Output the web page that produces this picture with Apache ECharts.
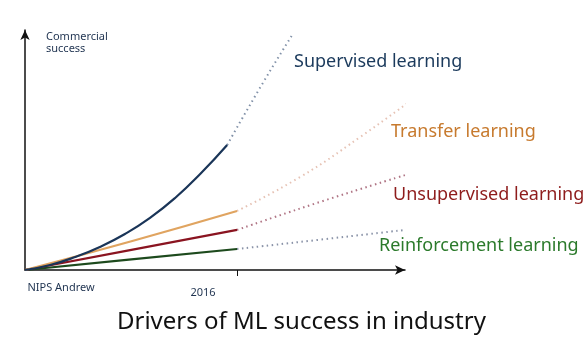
<!DOCTYPE html>
<html lang="en">
<head>
    <meta charset="UTF-8">
    <title>Drivers of ML success</title>
    <script src="https://cdn.jsdelivr.net/npm/echarts@6/dist/echarts.min.js"></script>
    <style>
        html, body { margin: 0; padding: 0; background: #fff; }
        #main { width: 585px; height: 337px; }
    </style>
</head>
<body>
<div id="main"></div>
<script type="text/javascript">
    // x: time (0 = NIPS Andrew, 55.8 = 2016), y: commercial success
    var tickValues = [0, 55.8];
    var tickLabels = ['NIPS Andrew', '2016'];

    var supervisedSolid = [[0, 0], [6.6, 2.1], [13.2, 5.4], [19.7, 9.6], [26.3, 15], [32.9, 21.7], [39.5, 30], [46.1, 40], [53.2, 52.1]];
    var supervisedDotted = [[53.2, 52.1], [61.8, 75.8], [70.3, 97.9]];
    var transferSolid = [[0, 0], [28, 12], [55.8, 24.6]];
    var transferDotted = [[55.8, 24.6], [72.4, 38.75], [88.2, 55.4], [105.3, 75]];
    var unsupSolid = [[0, 0], [28, 8.4], [55.8, 16.7]];
    var unsupDotted = [[55.8, 16.7], [78.4, 28.75], [101.8, 40.4]];
    var reinfSolid = [[0, 0], [28, 4.4], [55.8, 8.75]];
    var reinfDotted = [[55.8, 8.75], [78, 12.7], [100, 16.7]];

    var names = ['Supervised learning', 'Transfer learning', 'Unsupervised learning', 'Reinforcement learning'];

    var chart = echarts.init(document.getElementById('main'));

    function solid(data, color) {
        return {
            type: 'line', data: data, smooth: true, symbol: 'none', clip: false, silent: true,
            lineStyle: { color: color, width: 2.2 }
        };
    }
    function dotted(data, color) {
        return {
            type: 'line', data: data, smooth: true, symbol: 'none', clip: false, silent: true,
            lineStyle: { color: color, width: 2, type: [1.5, 3.5] }
        };
    }

    var option = {
        animation: false,
        title: {
            text: 'Drivers of ML success in industry',
            left: 112,
            top: 305,
            textStyle: { fontFamily: 'Noto Sans', fontWeight: 'normal', fontSize: 24, color: '#111' }
        },
        grid: { left: 25, top: 30, width: 380, height: 240 },
        xAxis: {
            type: 'value', min: 0, max: 100,
            axisLine: { lineStyle: { color: '#111', width: 1.5 }, symbol: ['none', 'arrow'], symbolSize: [7, 10] },
            axisTick: { show: true, customValues: [tickValues[1]], length: 6, inside: false, lineStyle: { color: '#111' } },
            axisLabel: {
                show: true,
                customValues: tickValues,
                margin: 12,
                color: '#1f3350',
                fontFamily: 'Noto Sans',
                fontSize: 11,
                formatter: function (v) {
                    return v === 0 ? '{a|' + tickLabels[0] + '}' : '{b|' + tickLabels[1] + '}';
                },
                rich: {
                    a: { padding: [0, 0, 0, 72], fontSize: 11, fontFamily: 'Noto Sans', color: '#1f3350' },
                    b: { padding: [5, 68, 0, 0], fontSize: 11, fontFamily: 'Noto Sans', color: '#1f3350' }
                }
            },
            splitLine: { show: false }
        },
        yAxis: {
            type: 'value', min: 0, max: 100,
            axisLine: { show: true, lineStyle: { color: '#111', width: 1.5 }, symbol: ['none', 'arrow'], symbolSize: [7, 10] },
            axisTick: { show: false },
            axisLabel: { show: false },
            splitLine: { show: false }
        },
        graphic: [
            { type: 'text', left: 46, top: 31, style: { text: 'Commercial\nsuccess', font: '11px "Noto Sans"', fill: '#1f3350', lineHeight: 12 } },
            { type: 'text', x: 294, y: 62, style: { text: names[0], font: '18px "Noto Sans"', fill: '#1b3a5c', verticalAlign: 'middle' } },
            { type: 'text', x: 391, y: 132, style: { text: names[1], font: '18px "Noto Sans"', fill: '#c77a2e', verticalAlign: 'middle' } },
            { type: 'text', x: 393, y: 195, style: { text: names[2], font: '18px "Noto Sans"', fill: '#8e1c1c', verticalAlign: 'middle' } },
            { type: 'text', x: 379, y: 246, style: { text: names[3], font: '18px "Noto Sans"', fill: '#2b7a2b', verticalAlign: 'middle' } }
        ],
        series: [
            dotted(supervisedDotted, '#8191a8'),
            dotted(transferDotted, '#e6c2b4'),
            dotted(unsupDotted, '#b07585'),
            dotted(reinfDotted, '#8a93a8'),
            solid(reinfSolid, '#1d4a1d'),
            solid(unsupSolid, '#8a1420'),
            solid(transferSolid, '#e0a460'),
            solid(supervisedSolid, '#1a3558')
        ]
    };
    chart.setOption(option);
</script>
</body>
</html>
